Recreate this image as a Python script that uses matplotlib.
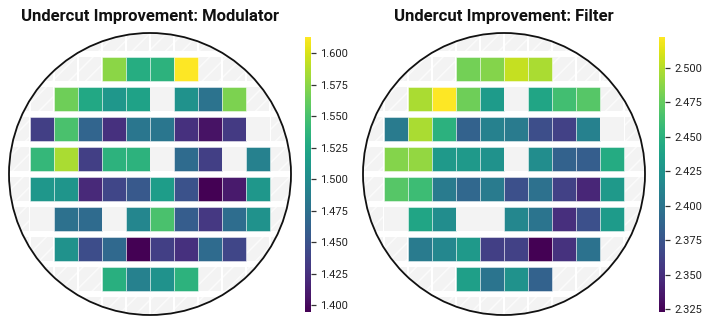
"""wafer maps of undercut improvement, modulator and filter"""

import numpy as np
import matplotlib
matplotlib.use('Agg')
import matplotlib.pyplot as plt
from matplotlib.patches import Rectangle, Circle
from matplotlib.cm import ScalarMappable
from matplotlib.colors import Normalize

nan = np.nan

#%% data: rows top->bottom, 10 columns; None = outside die map, nan = missing die
mod_values = [
    [None, None, None, 1.575, 1.530, 1.535, 1.6127, None, None, None],
    [None, 1.565, 1.525, 1.510, 1.520, nan, 1.505, 1.478, 1.570, None],
    [1.435, 1.550, 1.465, 1.425, 1.480, 1.480, 1.425, 1.405, 1.432, nan],
    [1.540, 1.585, 1.435, 1.535, 1.535, nan, 1.470, 1.435, nan, 1.490],
    [1.510, 1.508, 1.420, 1.440, 1.455, 1.515, 1.450, 1.3947, 1.410, 1.510],
    [nan, 1.475, 1.470, nan, 1.495, 1.550, 1.458, 1.430, 1.472, 1.505],
    [None, 1.505, 1.445, 1.468, 1.3947, 1.435, 1.425, 1.470, 1.440, None],
    [None, None, None, 1.532, 1.490, 1.505, 1.535, None, None, None],
]
filt_values = [
    [None, None, None, 2.480, 2.485, 2.505, 2.497, None, None, None],
    [None, 2.497, 2.5222, 2.478, 2.432, nan, 2.440, 2.462, 2.470, None],
    [2.405, 2.497, 2.450, 2.385, 2.410, 2.405, 2.370, 2.362, 2.410, nan],
    [2.485, 2.490, 2.430, 2.430, 2.425, nan, 2.420, 2.385, 2.382, 2.445],
    [2.470, 2.460, 2.405, 2.390, 2.405, 2.372, 2.397, 2.362, 2.345, 2.430],
    [nan, 2.440, 2.420, nan, nan, 2.415, 2.400, 2.350, 2.372, 2.432],
    [None, 2.405, 2.415, 2.430, 2.360, 2.362, 2.3233, 2.352, 2.398, None],
    [None, None, None, 2.435, 2.400, 2.425, 2.385, None, None, None],
]
mod_ticks = [1.400, 1.425, 1.450, 1.475, 1.500, 1.525, 1.550, 1.575, 1.600]
filt_ticks = [2.325, 2.350, 2.375, 2.400, 2.425, 2.450, 2.475, 2.500]
titles = ['Undercut Improvement: Modulator', 'Undercut Improvement: Filter']

plt.rcParams['font.family'] = ['Roboto', 'DejaVu Sans']
plt.rcParams['hatch.linewidth'] = 1.1

W, H = 707, 318
fig = plt.figure(figsize=(W / 100, H / 100), dpi=100)

panels = [(mod_values, mod_ticks, 0), (filt_values, filt_ticks, 354)]
for i, (vals, ticks, off) in enumerate(panels):
    arr = [[v for v in row if v is not None] for row in vals]
    flat = np.array([v for row in arr for v in row], dtype=float)
    norm = Normalize(np.nanmin(flat), np.nanmax(flat))
    cmap = plt.get_cmap('viridis')

    ax = fig.add_axes([(off + 6) / W, 0, 288 / W, 288 / H])
    ax.set_xlim(-6, 6)
    ax.set_ylim(-6, 6)
    ax.set_aspect('equal')
    ax.axis('off')

    clip = Circle((0, 0), 5.875, transform=ax.transData)
    for r in range(-1, 9):
        for c in range(-1, 11):
            x = c - 4.5
            y = (3.5 - r) * 1.25
            v = None
            if 0 <= r < 8 and 0 <= c < 10:
                v = vals[r][c]
            if v is None:
                p = Rectangle((x - 0.46, y - 0.48), 0.92, 0.96, facecolor='#f3f3f3',
                              edgecolor='#fbfbfb', lw=0, hatch='//')
            elif np.isnan(v):
                p = Rectangle((x - 0.48, y - 0.5), 0.96, 1.0, facecolor='#f3f3f3', lw=0)
            else:
                p = Rectangle((x - 0.48, y - 0.5), 0.96, 1.0, facecolor=cmap(norm(v)),
                              edgecolor=(1, 1, 1, 0.45), lw=0.7)
            ax.add_patch(p)
            p.set_clip_path(clip)
    ax.add_patch(Circle((0, 0), 5.875, facecolor='none', edgecolor='#111111', lw=1.3))

    fig.text((off + 150) / W, 1 - 17 / H, titles[i], ha='center', va='center',
             fontsize=12, fontweight='bold', color='#111111')

    cax = fig.add_axes([(off + 305) / W, (H - 311.7) / H, 6 / W, 274.7 / H])
    cb = fig.colorbar(ScalarMappable(norm=norm, cmap=cmap), cax=cax)
    cb.outline.set_visible(False)
    cb.set_ticks(ticks)
    cb.set_ticklabels(['{:.3f}'.format(t) for t in ticks])
    cax.tick_params(length=3.5, width=0.9, color='#333333', labelsize=8,
                    labelcolor='#222222', pad=3)

plt.savefig('out.png', dpi=100)
